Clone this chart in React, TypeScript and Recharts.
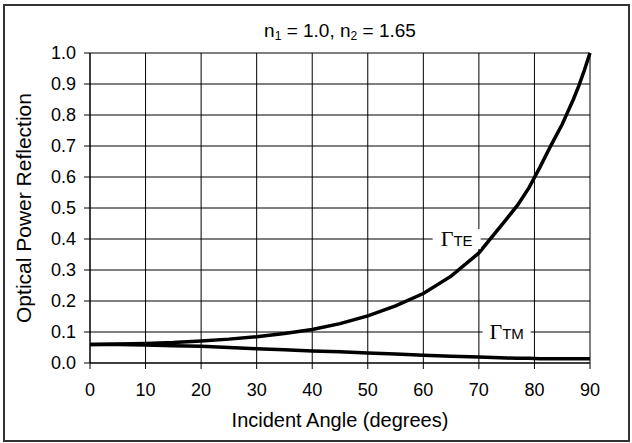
import React from 'react';
import { LineChart, Line, XAxis, YAxis, CartesianGrid, ReferenceDot } from 'recharts';

const angles = [0, 5, 10, 15, 20, 25, 30, 35, 40, 45, 50, 55, 60, 65, 70, 75, 77, 79, 81, 83, 85, 86, 87, 88, 89, 90];
const teReflection = [0.06, 0.061, 0.063, 0.066, 0.071, 0.077, 0.085, 0.095, 0.108, 0.127, 0.152, 0.184, 0.224, 0.28, 0.355, 0.465, 0.51, 0.565, 0.632, 0.703, 0.77, 0.81, 0.85, 0.895, 0.945, 1.0];
const tmReflection = [0.06, 0.06, 0.058, 0.056, 0.054, 0.05, 0.046, 0.043, 0.039, 0.036, 0.032, 0.029, 0.025, 0.022, 0.019, 0.016, 0.015, 0.015, 0.014, 0.014, 0.014, 0.014, 0.014, 0.014, 0.014, 0.014];
const xTicks = [0, 10, 20, 30, 40, 50, 60, 70, 80, 90];
const yTicks = [0, 0.1, 0.2, 0.3, 0.4, 0.5, 0.6, 0.7, 0.8, 0.9, 1.0];
const title = { n1: '1.0', n2: '1.65' };
const teLabel = { angle: 66, value: 0.4, sub: 'TE' };
const tmLabel = { angle: 75, value: 0.1, sub: 'TM' };

const data = angles.map((a, i) => ({ angle: a, te: teReflection[i], tm: tmReflection[i] }));

const SANS = "Arial, 'Liberation Sans', sans-serif";
const SERIF = "'Times New Roman', 'Liberation Serif', serif";

const GammaLabel = (props: any) => {
  const vb = props.viewBox || {};
  const cx = (vb.x || 0) + (vb.width || 0) / 2;
  const cy = (vb.y || 0) + (vb.height || 0) / 2;
  return (
    <g>
      <rect x={cx - 24} y={cy - 10} width={48} height={20} fill="#fff" />
      <text x={cx} y={cy + 7} textAnchor="middle" fill="#000">
        <tspan fontFamily={SERIF} fontSize={22}>Γ</tspan>
        <tspan fontFamily={SANS} fontSize={15}>{props.sub}</tspan>
      </text>
    </g>
  );
};

const YLabel = (props: any) => {
  const vb = props.viewBox || {};
  const x = 23;
  const y = (vb.y || 0) + (vb.height || 0) / 2;
  return (
    <text x={x} y={y} transform={`rotate(-90, ${x}, ${y})`} textAnchor="middle" dominantBaseline="central" fontFamily={SANS} fontSize={21} fill="#000">
      Optical Power Reflection
    </text>
  );
};

export default function App() {
  return (
    <div style={{ position: 'absolute', left: 0, top: 0, width: 632, height: 443, background: '#fff' }}>
      <div style={{ position: 'absolute', left: 3, top: 4, width: 627, height: 438, border: '2px solid #333', boxSizing: 'border-box' }} />
      <div style={{ position: 'absolute', left: 90, width: 500, top: 19, textAlign: 'center', fontFamily: SANS, fontSize: 19, lineHeight: '24px', color: '#000' }}>
        n<sub style={{ fontSize: 12, verticalAlign: 'baseline', position: 'relative', top: 3 }}>1</sub> = {title.n1}, n<sub style={{ fontSize: 12, verticalAlign: 'baseline', position: 'relative', top: 3 }}>2</sub> = {title.n2}
      </div>
      <div style={{ position: 'absolute', left: 0, top: 0 }}>
        <LineChart width={632} height={443} data={data} margin={{ top: 53, right: 42, left: 0, bottom: 0 }}>
          <CartesianGrid stroke="#000" strokeWidth={1} />
          <XAxis
            dataKey="angle"
            type="number"
            domain={[0, 90]}
            ticks={xTicks}
            interval={0}
            height={80}
            tickSize={6}
            tickMargin={14}
            axisLine={{ stroke: '#000' }}
            tickLine={{ stroke: '#000' }}
            tick={{ fill: '#000', fontSize: 18, fontFamily: SANS }}
            label={{ value: 'Incident Angle (degrees)', position: 'insideBottom', offset: 16, fill: '#000', fontSize: 20, fontFamily: SANS }}
          />
          <YAxis
            type="number"
            domain={[0, 1]}
            ticks={yTicks}
            interval={0}
            width={90}
            tickSize={6}
            tickMargin={8}
            axisLine={{ stroke: '#000' }}
            tickLine={{ stroke: '#000' }}
            tickFormatter={(v: number) => v.toFixed(1)}
            tick={{ fill: '#000', fontSize: 18, fontFamily: SANS }}
            label={<YLabel />}
          />
          <Line type="linear" dataKey="tm" stroke="#000" strokeWidth={3.5} dot={false} isAnimationActive={false} />
          <Line type="linear" dataKey="te" stroke="#000" strokeWidth={3.5} dot={false} isAnimationActive={false} />
          <ReferenceDot x={teLabel.angle} y={teLabel.value} r={0} fill="none" stroke="none" label={<GammaLabel sub={teLabel.sub} />} />
          <ReferenceDot x={tmLabel.angle} y={tmLabel.value} r={0} fill="none" stroke="none" label={<GammaLabel sub={tmLabel.sub} />} />
        </LineChart>
      </div>
    </div>
  );
}
